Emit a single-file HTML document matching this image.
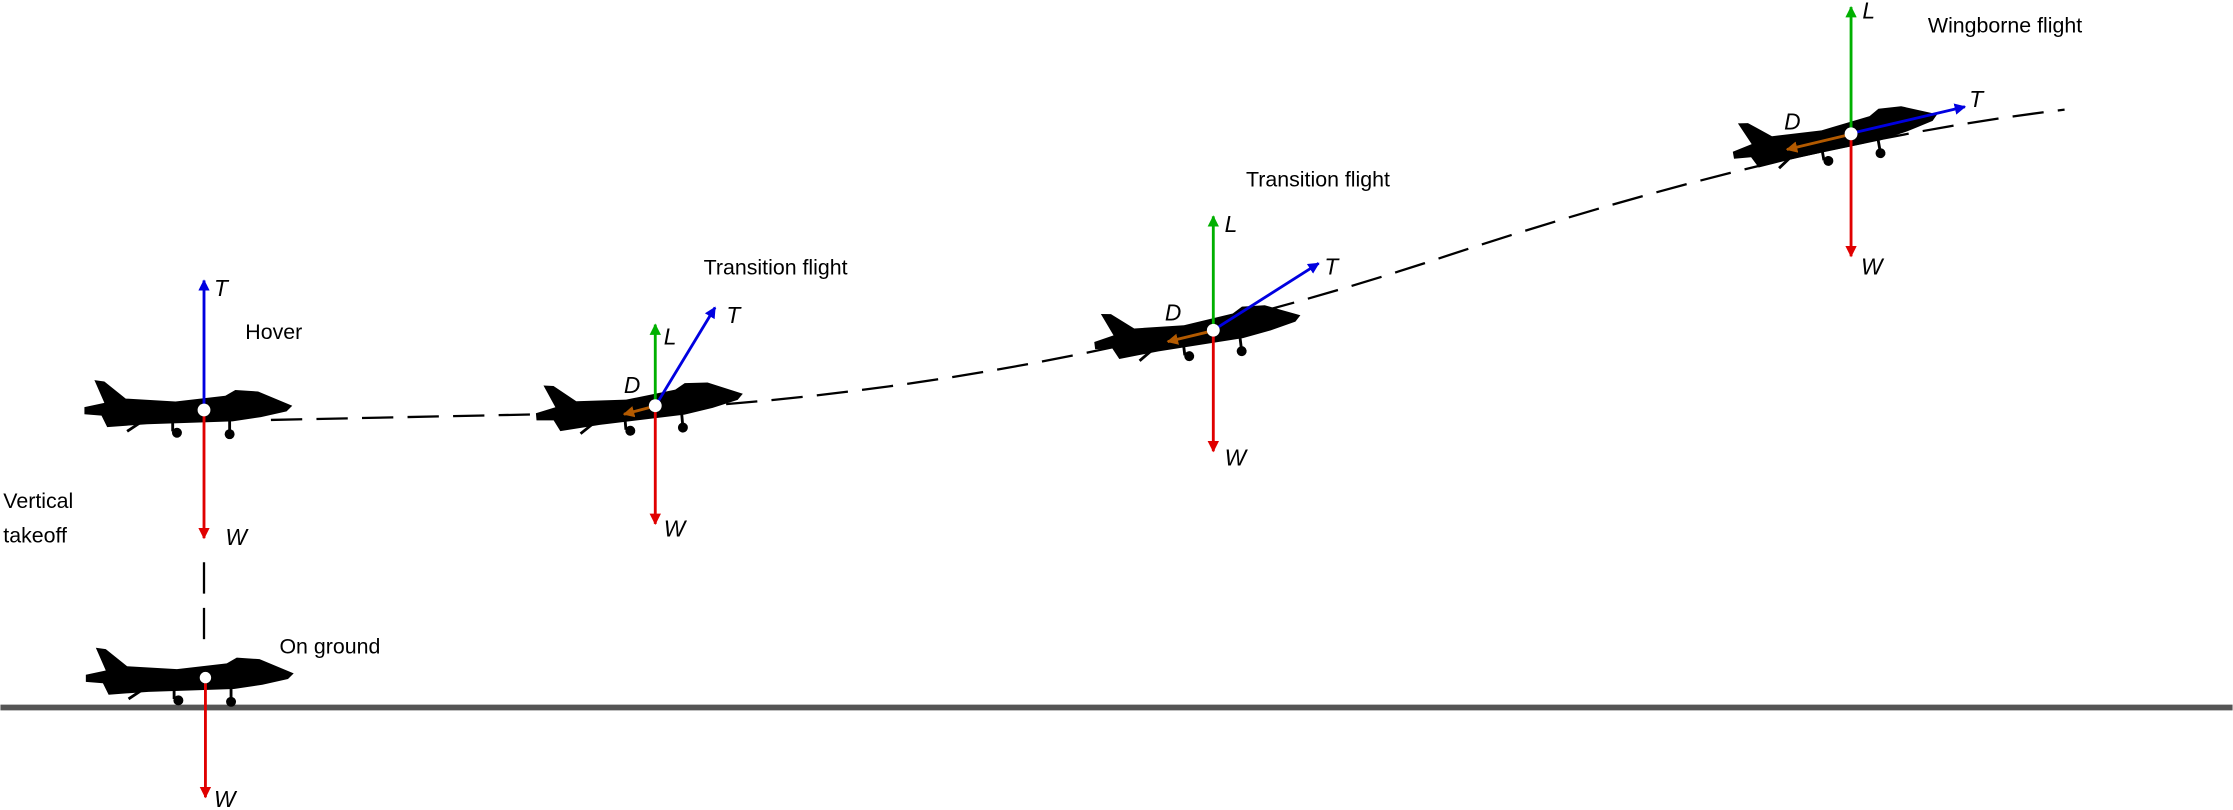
<!DOCTYPE html>
<html><head><meta charset="utf-8"><style>html,body{margin:0;padding:0;background:#fff}svg{display:block}</style></head>
<body>
<svg width="2233" height="810" viewBox="0 0 1568 569" xmlns="http://www.w3.org/2000/svg" font-family="Liberation Sans, sans-serif">
<defs>
<marker id="ab" viewBox="0 0 10 10" refX="9" refY="5" markerWidth="4" markerHeight="4" orient="auto"><path d="M0,0L10,5L0,10z" fill="#0000e0"/></marker>
<marker id="ar" viewBox="0 0 10 10" refX="9" refY="5" markerWidth="4" markerHeight="4" orient="auto"><path d="M0,0L10,5L0,10z" fill="#e00000"/></marker>
<marker id="ag" viewBox="0 0 10 10" refX="9" refY="5" markerWidth="4" markerHeight="4" orient="auto"><path d="M0,0L10,5L0,10z" fill="#00b000"/></marker>
<marker id="ao" viewBox="0 0 10 10" refX="9" refY="5" markerWidth="4" markerHeight="4" orient="auto"><path d="M0,0L10,5L0,10z" fill="#b35a00"/></marker>
<g id="jet">
<path d="M-84,-2 L-70,-5 L-77,-21 L-70,-20 L-55,-8 L-20,-6 L15,-10 L22,-14 L38,-13 L62,-3 L58,1 L40,5 L20,8 L-40,10 L-68,12 L-72,4 L-84,3 Z" fill="#000"/>
<path d="M-45,9 L-54,15 M-22,9 L-22,15 M18,7 L18,15" stroke="#000" stroke-width="2"/>
<circle cx="-19" cy="16" r="3.5"/><circle cx="18" cy="17" r="3.5"/>
</g>
</defs>
<line x1="0" y1="497" x2="1568" y2="497" stroke="#555" stroke-width="4"/>
<path d="M190,295 L380,291 C600,285 800,250 1000,185 C1150,135 1300,95 1450,77" fill="none" stroke="#000" stroke-width="1.6" stroke-dasharray="22,10"/>
<line x1="143" y1="395" x2="143" y2="458" stroke="#000" stroke-width="1.6" stroke-dasharray="22,10"/>
<g font-size="15" fill="#000">
<text x="2" y="357">Vertical</text><text x="2" y="381">takeoff</text>
<text x="172" y="238">Hover</text>
<text x="196" y="459">On ground</text>
<text x="494" y="193">Transition flight</text>
<text x="875" y="131">Transition flight</text>
<text x="1354" y="23">Wingborne flight</text>
</g>
<use href="#jet" transform="translate(144,476)"/>
<line x1="144" y1="480" x2="144" y2="560" stroke="#e00000" stroke-width="2" marker-end="url(#ar)"/>
<circle cx="144" cy="476" r="4" fill="#fff"/>
<use href="#jet" transform="translate(143,288)"/>
<line x1="143" y1="284" x2="143" y2="197" stroke="#0000e0" stroke-width="2" marker-end="url(#ab)"/>
<line x1="143" y1="292" x2="143" y2="378" stroke="#e00000" stroke-width="2" marker-end="url(#ar)"/>
<circle cx="143" cy="288" r="4.5" fill="#fff"/>
<use href="#jet" transform="translate(460,285) rotate(-5)"/>
<line x1="460" y1="282" x2="460" y2="228" stroke="#00b000" stroke-width="2" marker-end="url(#ag)"/>
<line x1="462" y1="282" x2="502" y2="216" stroke="#0000e0" stroke-width="2" marker-end="url(#ab)"/>
<line x1="457" y1="286" x2="438" y2="291" stroke="#b35a00" stroke-width="2" marker-end="url(#ao)"/>
<line x1="460" y1="289" x2="460" y2="368" stroke="#e00000" stroke-width="2" marker-end="url(#ar)"/>
<circle cx="460" cy="285" r="4.5" fill="#fff"/>
<use href="#jet" transform="translate(852,232) rotate(-7)"/>
<line x1="852" y1="229" x2="852" y2="152" stroke="#00b000" stroke-width="2" marker-end="url(#ag)"/>
<line x1="855" y1="230" x2="926" y2="185" stroke="#0000e0" stroke-width="2" marker-end="url(#ab)"/>
<line x1="849" y1="233" x2="820" y2="240" stroke="#b35a00" stroke-width="2" marker-end="url(#ao)"/>
<line x1="852" y1="236" x2="852" y2="317" stroke="#e00000" stroke-width="2" marker-end="url(#ar)"/>
<circle cx="852" cy="232" r="4.5" fill="#fff"/>
<use href="#jet" transform="translate(1300,94) rotate(-10)"/>
<line x1="1300" y1="91" x2="1300" y2="5" stroke="#00b000" stroke-width="2" marker-end="url(#ag)"/>
<line x1="1303" y1="93" x2="1380" y2="75" stroke="#0000e0" stroke-width="2" marker-end="url(#ab)"/>
<line x1="1297" y1="95" x2="1255" y2="105" stroke="#b35a00" stroke-width="2" marker-end="url(#ao)"/>
<line x1="1300" y1="98" x2="1300" y2="180" stroke="#e00000" stroke-width="2" marker-end="url(#ar)"/>
<circle cx="1300" cy="94" r="4.5" fill="#fff"/>
<g font-size="16" font-style="italic" fill="#000">
<text x="150" y="567">W</text>
<text x="150" y="208">T</text><text x="158" y="383">W</text>
<text x="466" y="242">L</text><text x="510" y="227">T</text><text x="438" y="276">D</text><text x="466" y="377">W</text>
<text x="860" y="163">L</text><text x="930" y="193">T</text><text x="818" y="225">D</text><text x="860" y="327">W</text>
<text x="1308" y="13">L</text><text x="1383" y="75">T</text><text x="1253" y="91">D</text><text x="1307" y="193">W</text>
</g>
</svg>
</body></html>
